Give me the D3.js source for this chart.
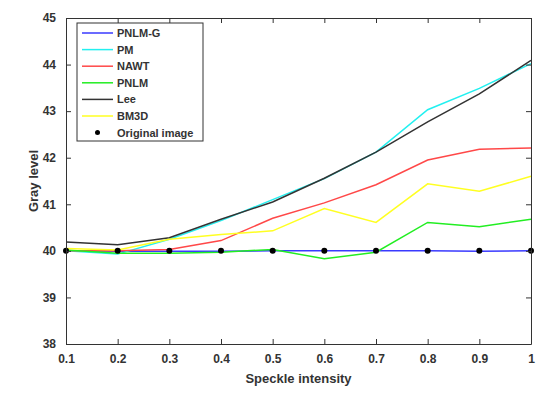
<!DOCTYPE html>
<html>
<head>
  <script src="https://d3js.org/d3.v7.min.js"></script>
  <style>
    body { margin: 0; background: #fff; }
    text { font-family: "Liberation Sans", Arial, sans-serif; font-weight: bold; }
  </style>
</head>
<body>
<svg width="550" height="396"></svg>
<script>
  let intensity = [0.1, 0.2, 0.3, 0.4, 0.5, 0.6, 0.7, 0.8, 0.9, 1.0];
  let pnlmG = [40.0, 39.99, 39.99, 39.99, 40.0, 40.0, 40.0, 40.0, 39.99, 40.0];
  let pm    = [40.0, 39.93, 40.25, 40.65, 41.1, 41.55, 42.12, 43.03, 43.49, 44.02];
  let nawt  = [40.0, 40.0, 40.03, 40.22, 40.7, 41.03, 41.42, 41.95, 42.18, 42.21];
  let pnlm  = [40.02, 39.95, 39.95, 39.97, 40.03, 39.83, 39.97, 40.61, 40.52, 40.68];
  let lee   = [40.19, 40.13, 40.28, 40.68, 41.05, 41.56, 42.12, 42.77, 43.37, 44.09];
  let bm3d  = [40.05, 40.02, 40.25, 40.35, 40.43, 40.91, 40.61, 41.44, 41.28, 41.6];
  let original = [40, 40, 40, 40, 40, 40, 40, 40, 40, 40];
  let xTicks = [0.1, 0.2, 0.3, 0.4, 0.5, 0.6, 0.7, 0.8, 0.9, 1];
  let yTicks = [38, 39, 40, 41, 42, 43, 44, 45];

  let series = [
    { name: "PNLM-G", values: pnlmG, color: "#3a3aff" },
    { name: "PM", values: pm, color: "#22f0f0" },
    { name: "NAWT", values: nawt, color: "#ff4848" },
    { name: "PNLM", values: pnlm, color: "#22ee22" },
    { name: "Lee", values: lee, color: "#333333" },
    { name: "BM3D", values: bm3d, color: "#ffff22" }
  ];

  let margins = { left: 66, right: 19, top: 18, bottom: 52 },
    width = 550, height = 396;

  let x = d3.scaleLinear().domain([0.1, 1]).range([margins.left, width - margins.right]);
  let y = d3.scaleLinear().domain([38, 45]).range([height - margins.bottom, margins.top]);

  let svg = d3.select("svg");
  let axisColor = "#333";

  // lines
  let line = d3.line().x((d, i) => x(intensity[i])).y(d => y(d));
  svg.append("g").selectAll("path")
    .data(series).enter()
    .append("path")
    .attr("d", d => line(d.values))
    .attr("fill", "none")
    .attr("stroke", d => d.color)
    .attr("stroke-width", 1.5);

  svg.append("g").selectAll("circle")
    .data(original).enter()
    .append("circle")
    .attr("cx", (d, i) => x(intensity[i]))
    .attr("cy", d => y(d))
    .attr("r", 3)
    .attr("fill", "#000");

  // axes with inward ticks, box on all sides
  let fmt = d => String(+d.toFixed(1));
  let xAxis = svg.append("g").attr("transform", `translate(0,${y(38)})`)
    .call(d3.axisBottom(x).tickValues(xTicks).tickSizeInner(-5).tickSizeOuter(0).tickPadding(10).tickFormat(fmt));
  let xTop = svg.append("g").attr("transform", `translate(0,${y(45)})`)
    .call(d3.axisTop(x).tickValues(xTicks).tickSizeInner(-5).tickSizeOuter(0).tickFormat(""));
  let yAxis = svg.append("g").attr("transform", `translate(${x(0.1)},0)`)
    .call(d3.axisLeft(y).tickValues(yTicks).tickSizeInner(-5).tickSizeOuter(0).tickPadding(10).tickFormat(d3.format("d")));
  let yRight = svg.append("g").attr("transform", `translate(${x(1)},0)`)
    .call(d3.axisRight(y).tickValues(yTicks).tickSizeInner(-5).tickSizeOuter(0).tickFormat(""));

  [xAxis, xTop, yAxis, yRight].forEach(a => {
    a.selectAll("path, line").attr("stroke", axisColor).attr("stroke-width", 1);
    a.selectAll("text").attr("fill", axisColor).attr("font-size", "12px")
      .attr("font-family", "Liberation Sans, Arial, sans-serif").attr("font-weight", "bold");
  });

  svg.append("text").text("Speckle intensity")
    .attr("x", (x(0.1) + x(1)) / 2).attr("y", 383)
    .attr("text-anchor", "middle").attr("font-size", "13px").attr("fill", axisColor);
  svg.append("text").text("Gray level")
    .attr("transform", `translate(38,${(y(38) + y(45)) / 2})rotate(-90)`)
    .attr("text-anchor", "middle").attr("font-size", "13px").attr("fill", axisColor);

  // legend
  let legend = svg.append("g").attr("transform", "translate(77,23)");
  legend.append("rect").attr("width", 126).attr("height", 118)
    .attr("fill", "#fff").attr("stroke", axisColor).attr("stroke-width", 1);
  let entries = series.map(s => ({ name: s.name, color: s.color, type: "line" }))
    .concat([{ name: "Original image", color: "#000", type: "dot" }]);
  let item = legend.selectAll("g.item").data(entries).enter()
    .append("g").attr("transform", (d, i) => `translate(0,${10 + i * 16.6})`);
  item.filter(d => d.type == "line").append("line")
    .attr("x1", 5).attr("x2", 36).attr("y1", 0).attr("y2", 0)
    .attr("stroke", d => d.color).attr("stroke-width", 1.5);
  item.filter(d => d.type == "dot").append("circle")
    .attr("cx", 20.5).attr("cy", 0).attr("r", 2.5).attr("fill", "#000");
  item.append("text").text(d => d.name)
    .attr("x", 40).attr("y", 4).attr("font-size", "11px").attr("fill", axisColor);
</script>
</body>
</html>
